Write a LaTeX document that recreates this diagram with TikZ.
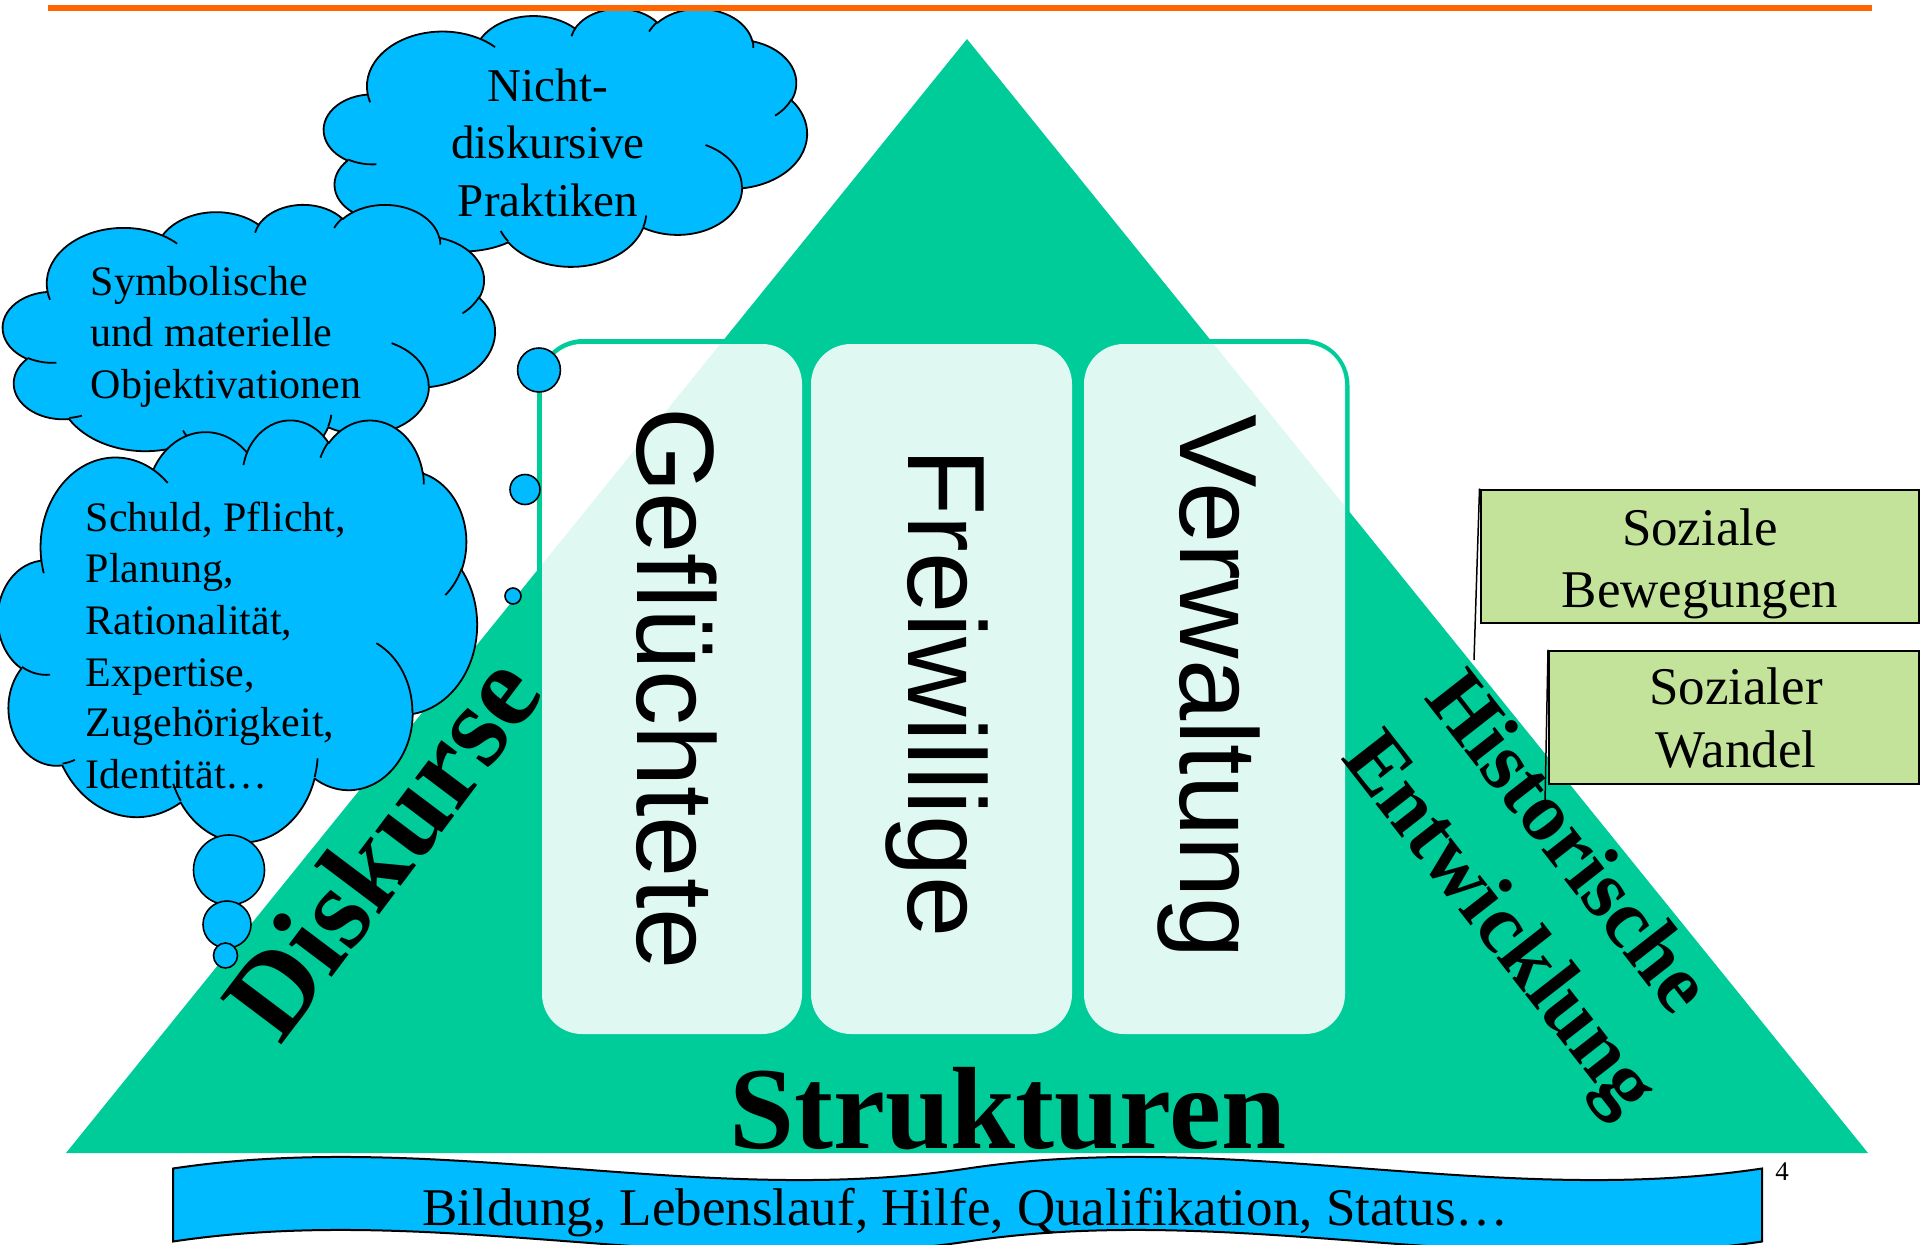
\documentclass[tikz,border=0pt]{standalone}
\usepackage{fontspec}
\setmainfont{Liberation Serif}
\newfontfamily\sansf{Liberation Sans}
\definecolor{trigreen}{RGB}{0,204,153}
\definecolor{cloudblue}{RGB}{0,187,255}
\definecolor{boxgreen}{RGB}{195,227,155}
\definecolor{toporange}{RGB}{255,102,0}
\newcommand\pa[4]{arc[x radius=#1, y radius=#2, start angle={atan2(#1*sin(#3),#2*cos(#3))}, delta angle={mod(atan2(#1*sin(#3+#4),#2*cos(#3+#4))-atan2(#1*sin(#3),#2*cos(#3))+720,360)}]}
\newcommand\pptcloud[4]{%
  \begin{scope}[shift={(#1,#2)}, xscale=#3/4320, yscale=#4/4320]
    \path[cloudfill] (390,1437)
      \pa{675.3}{919.0}{-190.4875}{123.7805}
      \pa{533.3}{726.7}{-144.1024}{89.9452}
      \pa{436.5}{594.5}{-145.8079}{99.7230}
      \pa{485.7}{659.5}{-130.9861}{117.2417}
      \pa{533.3}{727.3}{-78.7089}{109.0269}
      \pa{677.5}{922.0}{-46.2673}{130.2690}
      \pa{578.5}{786.7}{0.6250}{114.0333}
      \pa{675.2}{921.5}{22.4516}{115.1726}
      \pa{772.0}{1054.3}{66.2426}{75.7110}
      \pa{436.0}{591.8}{-274.9421}{146.7356}
      \pa{434.5}{594.5}{-246.8285}{152.5189} -- cycle;
    \path[cloudline]
      (469.3,2617.7) \pa{434.5}{594.5}{86.7420}{26.4295}
      (692.8,3489.9) \pa{436.0}{591.8}{73.6105}{11.4475}
      (1647.8,3909.0) \pa{675.2}{921.5}{137.6242}{14.0811}
      (2882.7,3475.1) \pa{675.2}{921.5}{6.4533}{15.9984}
      (3412.9,2295.4) \pa{578.5}{786.7}{-70.2924}{70.9174}
      (4179.8,1535.4) \pa{533.3}{727.3}{30.3180}{27.7515}
      (3832.4,542.6) \pa{485.7}{659.5}{-13.7443}{14.8589}
      (2907.8,395.2) \pa{485.7}{659.5}{-149.1815}{18.1954}
      (2214.1,472.0) \pa{436.5}{594.5}{-163.4943}{17.6864}
      (1400.0,519.2) \pa{675.3}{919.0}{-66.7070}{12.3194}
      (412.7,1578.9) \pa{675.3}{919.0}{157.6544}{11.8582};
  \end{scope}}
\begin{document}
\begin{tikzpicture}[x=1pt, y=-1pt,
  cloudfill/.style={fill=cloudblue, draw=black, line width=1.8pt, line join=round},
  cloudline/.style={draw=black, line width=1.8pt},
  bubble/.style={fill=cloudblue, draw=black, line width=1.6pt},
  pillar/.style={fill=white, fill opacity=0.88, draw=none, rounded corners=40pt, minimum width=260pt, minimum height=690pt, inner sep=0pt},
  pillartext/.style={font=\sansf\fontsize{110}{120}\selectfont, rotate=-90, anchor=base, inner sep=0pt},
  bigbold/.style={font=\bfseries\fontsize{117}{130}\selectfont, inner sep=0pt},
  midbold/.style={font=\bfseries\fontsize{84}{100}\selectfont, inner sep=0pt, anchor=base west, rotate=-52},
  cloudtext/.style={font=\fontsize{42}{50}\selectfont, inner sep=0pt, anchor=base west},
  toptext/.style={font=\fontsize{47}{56}\selectfont, inner sep=0pt, anchor=base},
  greenbox/.style={fill=boxgreen, draw=black, line width=2pt, inner sep=0pt},
  boxtext/.style={font=\fontsize{53}{62}\selectfont, inner sep=0pt, anchor=base},
  callout/.style={draw=black, line width=1.5pt}
]
\fill[white] (0,0) rectangle (1920,1245);
\useasboundingbox (0,0) rectangle (1920,1245);

% triangle
\fill[trigreen] (66,1153) -- (1868,1153) -- (967,39) -- cycle;

% outer frame
\draw[trigreen, line width=5pt, rounded corners=44pt] (539.5,341.5) rectangle (1347,1040);

% pillars
\node[pillar] (gbox) at (672,689) {};
\node[pillar, minimum width=261pt] (fbox) at (941.5,689) {};
\node[pillar, minimum width=261pt] (vbox) at (1214.5,689) {};
\node[pillartext] (gtext) at (637,688.5) {Geflüchtete};
\node[pillartext] (ftext) at (908,693) {Freiwillige};
\node[pillartext] (vtext) at (1180,687) {Verwaltung};

% cloud 1
\pptcloud{324}{8}{483}{258}
\node[toptext] (c1a) at (548,101.7) {Nicht-};
\node[toptext] (c1b) at (548,158) {diskursive};
\node[toptext] (c1c) at (548,216.7) {Praktiken};
\path[bubble] (539,370) ellipse [x radius=21.4, y radius=22];
\path[bubble] (525,489.5) circle [radius=15];
\path[bubble] (513,596) circle [radius=8];

% cloud 2
\pptcloud{3}{204}{492}{262}
\node[cloudtext] (c2a) at (90.7,295) {Symbolische};
\node[cloudtext] (c2b) at (90.7,346) {und materielle};
\node[cloudtext] (c2c) at (90.7,398) {Objektivationen};

% cloud 3
\pptcloud{-2}{419}{479}{422}
\node[cloudtext] (c3a) at (85.7,531.7) {Schuld, Pflicht,};
\node[cloudtext] (c3b) at (85.7,582.7) {Planung,};
\node[cloudtext] (c3c) at (85.7,634.3) {Rationalität,};
\node[cloudtext] (c3d) at (85.7,686) {Expertise,};
\node[cloudtext] (c3e) at (85.7,736.7) {Zugehörigkeit,};
\node[cloudtext] (c3f) at (85.7,788.3) {Identität…};
\path[bubble] (229,870) ellipse [x radius=35.5, y radius=35];
\path[bubble] (227,924.5) ellipse [x radius=24, y radius=23.5];
\path[bubble] (225.5,955.5) ellipse [x radius=12, y radius=12.5];

% triangle labels
\node[bigbold, anchor=base west, rotate=53] (disk) at (280,1047) {Diskurse};
\node[bigbold, anchor=base] (struk) at (1008,1148) {Strukturen};
\node[midbold] (hist) at (1423,698) {Historische};
\node[midbold] (entw) at (1340,758) {Entwicklung};

% green callout boxes
\node[greenbox, minimum width=438.5pt, minimum height=133pt] (sbox) at (1699.75,556) {};
\node[boxtext] (sbt1) at (1700,545) {Soziale};
\node[boxtext] (sbt2) at (1700,607) {Bewegungen};
\coordinate (sbtip) at (1474,660);
\draw[callout] (sbox.north west) -- (sbtip);
\node[greenbox, minimum width=370pt, minimum height=133.5pt] (wbox) at (1734,717.5) {};
\node[boxtext] (wbt1) at (1736,704) {Sozialer};
\node[boxtext] (wbt2) at (1736,767.5) {Wandel};
\coordinate (wbtip) at (1545,803);
\draw[callout] (wbox.north west) -- (wbtip);

% banner
\path[fill=cloudblue, draw=black, line width=2pt] (173,1168.5)
  .. controls (437.8,1128.5) and (702.7,1208.5) .. (967.5,1168.5)
  .. controls (1232.3,1128.5) and (1497.2,1208.5) .. (1762,1168.5)
  -- (1762,1241.5)
  .. controls (1497.2,1281.5) and (1232.3,1201.5) .. (967.5,1241.5)
  .. controls (702.7,1281.5) and (437.8,1201.5) .. (173,1241.5) -- cycle;
\node[font=\fontsize{53}{62}\selectfont, inner sep=0pt, anchor=base] (band) at (965.5,1225) {Bildung, Lebenslauf, Hilfe, Qualifikation, Status…};
\node[font=\fontsize{27}{32}\selectfont, inner sep=0pt, anchor=base] (pnum) at (1782,1180) {4};

% top rule
\draw[toporange, line width=6pt] (48,8) -- (1872,8);
\end{tikzpicture}
\end{document}
